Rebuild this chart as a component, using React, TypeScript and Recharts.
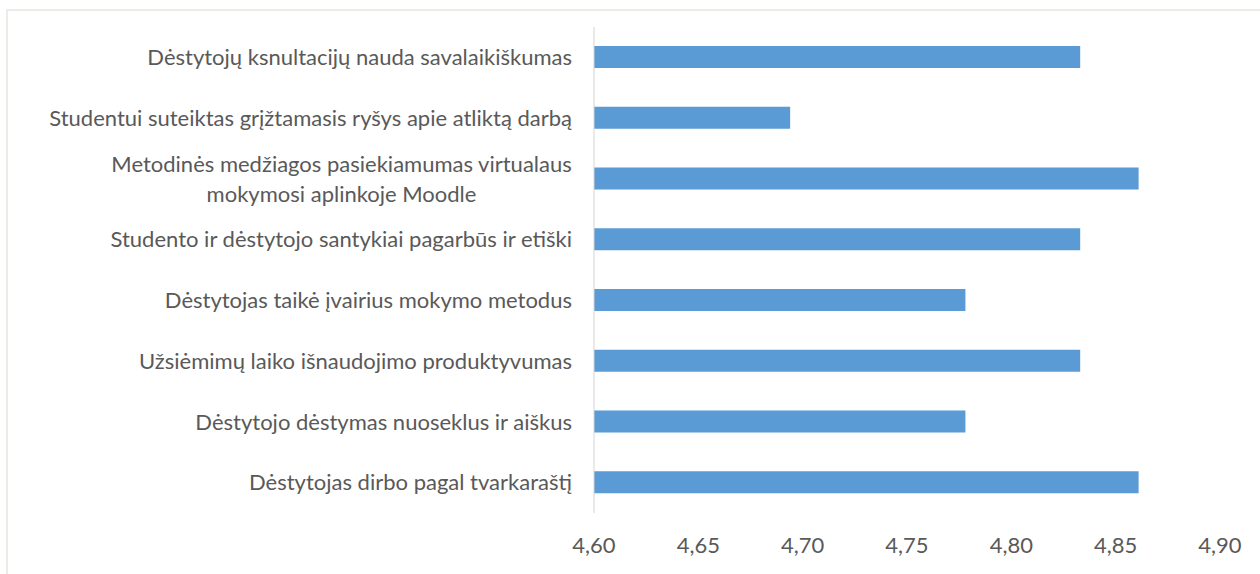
import { Bar, BarChart, XAxis, YAxis } from "recharts";

const categories = [
  "Dėstytojų ksnultacijų nauda savalaikiškumas",
  "Studentui suteiktas grįžtamasis ryšys apie atliktą darbą",
  "Metodinės medžiagos pasiekiamumas virtualaus\nmokymosi aplinkoje Moodle",
  "Studento ir dėstytojo santykiai pagarbūs ir etiški",
  "Dėstytojas taikė įvairius mokymo metodus",
  "Užsiėmimų laiko išnaudojimo produktyvumas",
  "Dėstytojo dėstymas nuoseklus ir aiškus",
  "Dėstytojas dirbo pagal tvarkaraštį",
];

const scores = [4.833, 4.694, 4.861, 4.833, 4.778, 4.833, 4.778, 4.861];

const xTicks = [4.6, 4.65, 4.7, 4.75, 4.8, 4.85, 4.9];

const FONT = "Lato, 'Liberation Sans', sans-serif";
const FONT_SIZE = 22;
const TEXT_COLOR = "#595959";

const chartData = categories.map((name, i) => ({ name, score: scores[i] }));

let measureCtx: CanvasRenderingContext2D | null = null;
function textWidth(text: string) {
  if (!measureCtx) {
    measureCtx = document.createElement("canvas").getContext("2d");
  }
  if (!measureCtx) return text.length * FONT_SIZE * 0.5;
  measureCtx.font = `${FONT_SIZE}px Lato`;
  return measureCtx.measureText(text).width;
}

function CategoryTick(props: any) {
  const { x, y, payload } = props;
  const lines: string[] = String(payload.value).split("\n");
  if (lines.length === 1) {
    return (
      <text
        x={x}
        y={y}
        dy="0.35em"
        textAnchor="end"
        fill={TEXT_COLOR}
        fontSize={FONT_SIZE}
        fontFamily={FONT}
      >
        {lines[0]}
      </text>
    );
  }
  // wrapped labels are centred inside a right-aligned block, like Excel does
  const widest = Math.max(...lines.map(textWidth));
  const cx = x - widest / 2;
  const lineHeight = 30;
  const top = y - ((lines.length - 1) * lineHeight) / 2;
  return (
    <text
      textAnchor="middle"
      fill={TEXT_COLOR}
      fontSize={FONT_SIZE}
      fontFamily={FONT}
    >
      {lines.map((line, i) => (
        <tspan key={i} x={cx} y={top + i * lineHeight} dy="0.35em">
          {line}
        </tspan>
      ))}
    </text>
  );
}

export default function App() {
  return (
    <div
      style={{
        position: "absolute",
        left: 0,
        top: 0,
        width: 1260,
        height: 574,
        background: "#fff",
      }}
    >
      <div
        style={{
          position: "absolute",
          left: 6,
          top: 9,
          right: 0,
          bottom: 0,
          borderTop: "2px solid #ecece6",
          borderLeft: "2px solid #ecece6",
        }}
      />
      <div style={{ position: "absolute", left: 0, top: 0 }}>
        <BarChart
          width={1260}
          height={574}
          data={chartData}
          layout="vertical"
          margin={{ top: 27, right: 40, bottom: 21, left: 8 }}
        >
          <XAxis
            type="number"
            domain={[4.6, 4.9]}
            ticks={xTicks}
            tickFormatter={(v) => Number(v).toFixed(2).replace(".", ",")}
            axisLine={false}
            tickLine={false}
            tickMargin={18}
            height={40}
            tick={{ fill: TEXT_COLOR, fontSize: FONT_SIZE, fontFamily: FONT }}
          />
          <YAxis
            type="category"
            dataKey="name"
            width={586}
            interval={0}
            tickLine={false}
            tickMargin={16}
            stroke="#d4d4d4"
            tick={<CategoryTick />}
          />
          <Bar
            dataKey="score"
            fill="#5b9bd5"
            barSize={22}
            isAnimationActive={false}
          />
        </BarChart>
      </div>
    </div>
  );
}
